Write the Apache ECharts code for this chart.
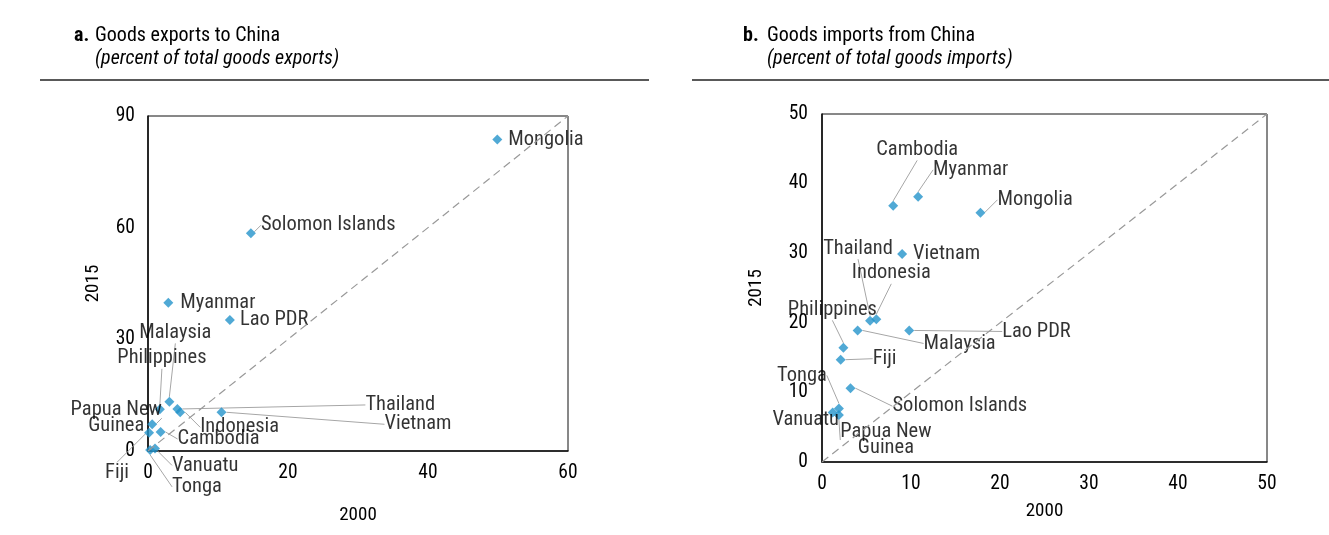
<!DOCTYPE html>
<html><head><meta charset="utf-8">
<script src="https://cdn.jsdelivr.net/npm/echarts@6/dist/echarts.min.js"></script>
<style>html,body{margin:0;padding:0;background:#fff}#c{width:1329px;height:535px}</style>
</head><body><div id="c"></div>
<script>
// ---- Data (percent) ----
var exportCountries = ["Mongolia","Solomon Islands","Myanmar","Lao PDR","Malaysia","Philippines","Thailand","Indonesia","Vietnam","Papua New\nGuinea","Fiji","Cambodia","Vanuatu","Tonga"];
var exports2000 = [49.9, 14.7, 2.9, 11.7, 3.05, 1.7, 4.2, 4.6, 10.5, 0.6, 0.15, 1.8, 1.0, 0.3];
var exports2015 = [83.7, 58.5, 39.8, 35.2, 13.2, 11.2, 11.3, 10.4, 10.4, 7.2, 4.9, 5.1, 0.7, 0.3];

var importCountries = ["Cambodia","Myanmar","Mongolia","Vietnam","Thailand","Indonesia","Philippines","Malaysia","Lao PDR","Fiji","Solomon Islands","Tonga","Vanuatu","Papua New\nGuinea"];
var imports2000 = [8.0, 10.8, 17.8, 9.0, 5.4, 6.1, 2.4, 4.0, 9.8, 2.1, 3.2, 1.9, 1.2, 1.9];
var imports2015 = [36.8, 38.1, 35.8, 29.9, 20.3, 20.5, 16.4, 18.9, 18.9, 14.7, 10.6, 7.7, 7.1, 6.75];

var exportXTicks = [0, 20, 40, 60];
var exportYTicks = [0, 30, 60, 90];
var importTicks = [0, 10, 20, 30, 40, 50];

// ---- Label placement (pixel offsets from marker centre; style only) ----
var exportLabelPos = {
  "Mongolia": [11, 0, "left", false],
  "Solomon Islands": [10, -8, "left", true],
  "Myanmar": [12, 0, "left", false],
  "Lao PDR": [10, 0, "left", false],
  "Malaysia": [6, -69, "center", true],
  "Philippines": [2, -51, "center", true],
  "Thailand": [188, -4, "left", true],
  "Indonesia": [20, 15, "left", true],
  "Vietnam": [163, 12, "left", true],
  "Papua New\nGuinea": [-36, -6, "center", true],
  "Fiji": [-32, 40, "center", true],
  "Cambodia": [17, 7, "left", true],
  "Vanuatu": [17, 17, "left", true],
  "Tonga": [22, 37, "left", true]
};
var importLabelPos = {
  "Cambodia": [24, -56, "center", true],
  "Myanmar": [15, -27, "left", true],
  "Mongolia": [17, -13, "left", true],
  "Vietnam": [11, 0, "left", false],
  "Thailand": [-12, -72, "center", true],
  "Indonesia": [15, -46, "center", true],
  "Philippines": [-11, -38, "center", true],
  "Malaysia": [66, 13, "left", true],
  "Lao PDR": [93, 1, "left", true],
  "Fiji": [32, -1, "left", true],
  "Solomon Islands": [42, 18, "left", true],
  "Tonga": [-37, -33, "center", true],
  "Vanuatu": [-27, 7, "center", true],
  "Papua New\nGuinea": [47, 25, "center", true]
};

var FONT = "'Roboto Condensed', 'DejaVu Sans Condensed', sans-serif";
var TXT = "#000";
var MARK = "#2494cb";
var GUIDE = "#a6a6a6";

function makeData(names, xs, ys, pos) {
  return names.map(function (n, i) {
    return { name: n, value: [xs[i], ys[i]], labelLine: { show: pos[n][3] } };
  });
}
function layoutFn(pos) {
  return function (p) {
    var o = pos[p.text] || [10, 0, "left", false];
    var cx = p.rect.x + p.rect.width / 2, cy = p.rect.y + p.rect.height / 2;
    return { x: cx + o[0], y: cy + o[1], align: o[2], verticalAlign: "middle" };
  };
}
function axisCommon(extra) {
  var a = {
    type: "value",
    axisLine: { show: true, onZero: false, lineStyle: { color: "#111", width: 1.6 } },
    axisTick: { show: false },
    splitLine: { show: false },
    nameTextStyle: { color: TXT, fontFamily: FONT, fontSize: 19 },
    nameLocation: "middle"
  };
  for (var k in extra) a[k] = extra[k];
  return a;
}
function tickLabel(margin) {
  return { color: TXT, fontFamily: FONT, fontSize: 19.5, margin: margin };
}

var chart = echarts.init(document.getElementById("c"), null, { renderer: "canvas" });
chart.setOption({
  animation: false,
  textStyle: { fontFamily: FONT },
  grid: [
    { left: 148, top: 116, width: 420, height: 335, show: true, borderColor: "#111", borderWidth: 1, backgroundColor: "transparent" },
    { left: 822, top: 114, width: 445, height: 348, show: true, borderColor: "#111", borderWidth: 1, backgroundColor: "transparent" }
  ],
  xAxis: [
    axisCommon({ gridIndex: 0, min: exportXTicks[0], max: exportXTicks[exportXTicks.length - 1], interval: exportXTicks[1] - exportXTicks[0], name: "2000", nameGap: 55, axisLabel: tickLabel(12) }),
    axisCommon({ gridIndex: 1, min: importTicks[0], max: importTicks[importTicks.length - 1], interval: importTicks[1] - importTicks[0], name: "2000", nameGap: 40, axisLabel: tickLabel(12) })
  ],
  yAxis: [
    axisCommon({ gridIndex: 0, min: exportYTicks[0], max: exportYTicks[exportYTicks.length - 1], interval: exportYTicks[1] - exportYTicks[0], name: "2015", nameGap: 45, axisLabel: tickLabel(13) }),
    axisCommon({ gridIndex: 1, min: importTicks[0], max: importTicks[importTicks.length - 1], interval: importTicks[1] - importTicks[0], name: "2015", nameGap: 56, axisLabel: tickLabel(14) })
  ],
  series: [
    {
      type: "scatter", xAxisIndex: 0, yAxisIndex: 0,
      symbol: "diamond", symbolSize: 10,
      itemStyle: { color: MARK },
      data: makeData(exportCountries, exports2000, exports2015, exportLabelPos),
      label: { show: true, formatter: "{b}", color: TXT, fontFamily: FONT, fontSize: 20.5, lineHeight: 16 },
      labelLine: { show: true, lineStyle: { color: GUIDE, width: 1 } },
      labelLayout: layoutFn(exportLabelPos),
      markLine: {
        silent: true, symbol: "none", label: { show: false },
        lineStyle: { color: "#999", type: [8, 5], width: 1.2 },
        data: [[{ coord: [exportXTicks[0], exportYTicks[0]] }, { coord: [exportXTicks[exportXTicks.length - 1], exportYTicks[exportYTicks.length - 1]] }]]
      },
      z: 3
    },
    {
      type: "scatter", xAxisIndex: 1, yAxisIndex: 1,
      symbol: "diamond", symbolSize: 10,
      itemStyle: { color: MARK },
      data: makeData(importCountries, imports2000, imports2015, importLabelPos),
      label: { show: true, formatter: "{b}", color: TXT, fontFamily: FONT, fontSize: 20.5, lineHeight: 16 },
      labelLine: { show: true, lineStyle: { color: GUIDE, width: 1 } },
      labelLayout: layoutFn(importLabelPos),
      markLine: {
        silent: true, symbol: "none", label: { show: false },
        lineStyle: { color: "#999", type: [8, 5], width: 1.2 },
        data: [[{ coord: [importTicks[0], importTicks[0]] }, { coord: [importTicks[importTicks.length - 1], importTicks[importTicks.length - 1]] }]]
      },
      z: 3
    }
  ],
  graphic: [
    { type: "text", left: 74, top: 26, style: { text: "a.", font: "bold 20px " + FONT, fill: TXT } },
    { type: "text", left: 95, top: 26, style: { text: "Goods exports to China", font: "20px " + FONT, fill: TXT } },
    { type: "text", left: 95, top: 49, style: { text: "(percent of total goods exports)", font: "italic 20px " + FONT, fill: TXT } },
    { type: "line", shape: { x1: 40, y1: 80, x2: 649, y2: 80 }, style: { stroke: "#222", lineWidth: 1.5 } },
    { type: "text", left: 743, top: 26, style: { text: "b.", font: "bold 20px " + FONT, fill: TXT } },
    { type: "text", left: 767, top: 26, style: { text: "Goods imports from China", font: "20px " + FONT, fill: TXT } },
    { type: "text", left: 767, top: 49, style: { text: "(percent of total goods imports)", font: "italic 20px " + FONT, fill: TXT } },
    { type: "line", shape: { x1: 692, y1: 80, x2: 1329, y2: 80 }, style: { stroke: "#222", lineWidth: 1.5 } }
  ]
});
</script></body></html>
